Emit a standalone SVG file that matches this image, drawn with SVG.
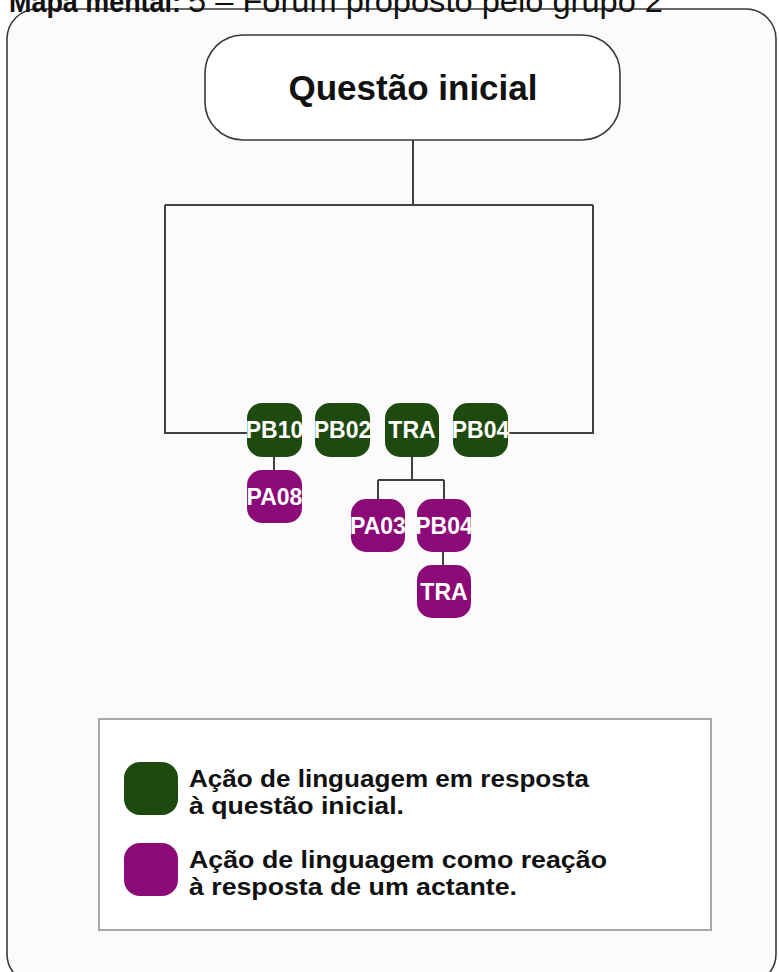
<svg xmlns="http://www.w3.org/2000/svg" width="779" height="972" viewBox="0 0 779 972">
<style>
.frame{fill:#fbfbfb;stroke:#3a3a3a;stroke-width:1.6}
.q{fill:#ffffff;stroke:#3a3a3a;stroke-width:1.6}
.g{fill:#1f4a0f}
.p{fill:#8b0a78}
.nt{font-family:"Liberation Sans",Arial,sans-serif;font-weight:bold;font-size:23px;fill:#ffffff;text-anchor:middle}
.conn{fill:none;stroke:#404040;stroke-width:2}
.lt{font-family:"Liberation Sans",Arial,sans-serif;font-weight:bold;font-size:23px;fill:#111111}
.tt{font-family:"Liberation Sans",Arial,sans-serif;fill:#111111}
</style>
<rect width="779" height="972" fill="#ffffff"/>
<rect class="frame" x="7" y="9" width="769" height="975" rx="30"/>
<text class="tt" x="9" y="12" font-size="29" font-weight="bold" textLength="172" lengthAdjust="spacingAndGlyphs">Mapa mental:</text>
<text class="tt" x="188" y="12" font-size="31" textLength="475" lengthAdjust="spacingAndGlyphs">5 – Fórum proposto pelo grupo 2</text>
<g id="connectors">
<path class="conn" d="M413 140 V205 M165 205 H593 M165 205 V433 H247 M593 205 V433 H508"/>
<path class="conn" d="M274 457 V470"/>
<path class="conn" d="M412 457 V480 M378 480 H444 M378 480 V499 M444 480 V499"/>
<path class="conn" d="M443 552 V565"/>
</g>
<g id="questao">
<rect class="q" x="205" y="35" width="415" height="105" rx="38"/>
<text x="413" y="100" text-anchor="middle" font-family="'Liberation Sans',Arial,sans-serif" font-weight="bold" font-size="35" fill="#111111">Questão inicial</text>
</g>
<g id="pb10"><rect class="g" x="247" y="403" width="55" height="54" rx="15"/><text class="nt" x="274.5" y="438">PB10</text></g>
<g id="pb02"><rect class="g" x="315" y="403" width="55" height="54" rx="15"/><text class="nt" x="342.5" y="438">PB02</text></g>
<g id="tra1"><rect class="g" x="385" y="403" width="54" height="54" rx="15"/><text class="nt" x="412" y="438">TRA</text></g>
<g id="pb04"><rect class="g" x="453" y="403" width="55" height="54" rx="15"/><text class="nt" x="480.5" y="438">PB04</text></g>
<g id="pa08"><rect class="p" x="247" y="470" width="55" height="53" rx="15"/><text class="nt" x="274.5" y="505">PA08</text></g>
<g id="pa03"><rect class="p" x="351" y="499" width="54" height="53" rx="15"/><text class="nt" x="378" y="534">PA03</text></g>
<g id="pb04b"><rect class="p" x="417" y="499" width="54" height="53" rx="15"/><text class="nt" x="444" y="534">PB04</text></g>
<g id="tra2"><rect class="p" x="417" y="565" width="54" height="53" rx="15"/><text class="nt" x="444" y="600">TRA</text></g>
<g id="legend">
<rect x="99" y="719" width="612" height="211" fill="#ffffff" stroke="#a8a8a8" stroke-width="2"/>
<rect class="g" x="124" y="762" width="54" height="53" rx="16"/>
<rect class="p" x="124" y="843" width="54" height="53" rx="16"/>
<text class="lt" x="189" y="787" textLength="400" lengthAdjust="spacingAndGlyphs">Ação de linguagem em resposta</text>
<text class="lt" x="189" y="814" textLength="215" lengthAdjust="spacingAndGlyphs">à questão inicial.</text>
<text class="lt" x="189" y="868" textLength="418" lengthAdjust="spacingAndGlyphs">Ação de linguagem como reação</text>
<text class="lt" x="189" y="895" textLength="328" lengthAdjust="spacingAndGlyphs">à resposta de um actante.</text>
</g>
</svg>
